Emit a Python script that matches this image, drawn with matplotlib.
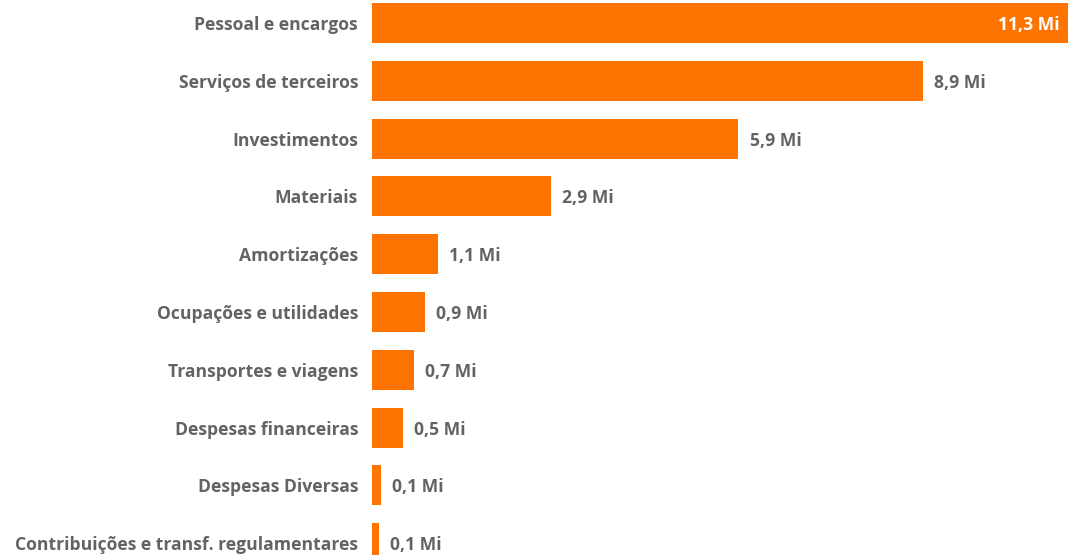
import matplotlib
matplotlib.use("Agg")
import matplotlib.pyplot as plt

categories = [
    "Pessoal e encargos",
    "Serviços de terceiros",
    "Investimentos",
    "Materiais",
    "Amortizações",
    "Ocupações e utilidades",
    "Transportes e viagens",
    "Despesas financeiras",
    "Despesas Diversas",
    "Contribuições e transf. regulamentares",
]
values = [11.3, 8.949, 5.949, 2.9, 1.07, 0.86, 0.68, 0.5, 0.14, 0.11]

BAR = "#FF7300"
TXT = "#636363"
plt.rcParams["font.family"] = ["Open Sans", "DejaVu Sans"]

W, H = 1068, 555
fig = plt.figure(figsize=(W / 100, H / 100), dpi=100)
left_px = 372
ax = fig.add_axes([left_px / W, 0, 1 - left_px / W, 1])

pos = list(range(len(categories)))
ax.barh(pos, values, height=40 / 57.8, color=BAR)
ax.set_xlim(0, max(values))
ax.set_ylim((555 - 23) / 57.8, -23 / 57.8)
ax.set_yticks(pos)
ax.set_yticklabels(categories, fontsize=12.6, fontweight="bold", color=TXT)
ax.tick_params(axis="y", length=0, pad=10)
ax.set_xticks([])
for s in ax.spines.values():
    s.set_visible(False)

for i, v in enumerate(values):
    lab = f"{v:.1f}".replace(".", ",") + " Mi"
    if i == 0:
        ax.annotate(lab, (v, i), xytext=(-6, 0), textcoords="offset points",
                    ha="right", va="center_baseline", fontsize=12.6, fontweight="bold", color="white")
    else:
        ax.annotate(lab, (v, i), xytext=(8, 0), textcoords="offset points",
                    ha="left", va="center_baseline", fontsize=12.6, fontweight="bold", color=TXT)

fig.savefig("out.png", dpi=100)
